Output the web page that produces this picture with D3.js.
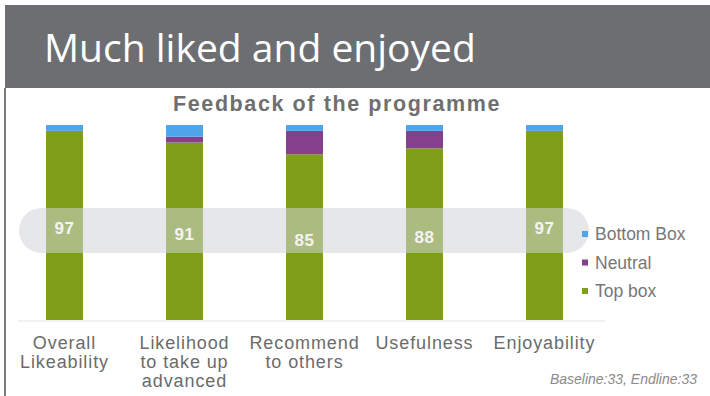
<!DOCTYPE html>
<html>
<head>
<meta charset="utf-8">
<script src="https://cdn.jsdelivr.net/npm/d3@7"></script>
<style>
    body { margin: 0; background: #fff; }
    svg { display: block; }
</style>
</head>
<body>
<div id="chart"></div>
<script>
// values
const categories = ['Overall Likeability', 'Likelihood to take up advanced', 'Recommend to others', 'Usefulness', 'Enjoyability'];
const categoryLines = [['Overall', 'Likeability'], ['Likelihood', 'to take up', 'advanced'], ['Recommend', 'to others'], ['Usefulness'], ['Enjoyability']];
const topBox = [97, 91, 85, 88, 97];
const neutral = [0, 3, 12, 9, 0];
const bottomBox = [3, 6, 3, 3, 3];
const seriesKeys = ['Top box', 'Neutral', 'Bottom Box'];
const legendOrder = ['Bottom Box', 'Neutral', 'Top box'];
const headline = 'Much liked and enjoyed';
const chartTitle = 'Feedback of the programme';
const footNote = 'Baseline:33, Endline:33';

const width = 710;
const height = 396;

const colors = d3.scaleOrdinal()
    .domain(seriesKeys)
    .range(['#7f9f19', '#85408d', '#4fa5ea']);

const rows = categories.map((c, i) => ({
    cat: c,
    'Top box': topBox[i],
    'Neutral': neutral[i],
    'Bottom Box': bottomBox[i]
}));

const svg = d3.select('#chart').append('svg')
    .attr('width', width)
    .attr('height', height);

// header strip
svg.append('rect')
    .attr('x', 5).attr('y', 5)
    .attr('width', width - 5).attr('height', 83)
    .attr('fill', '#6d6e71');

svg.append('text')
    .attr('x', 44).attr('y', 62)
    .attr('fill', '#fff')
    .style('font-family', '"Open Sans", sans-serif')
    .style('font-size', '39px')
    .text(headline);

// left border of the slide picture
svg.append('rect')
    .attr('x', 4).attr('y', 88)
    .attr('width', 2).attr('height', height - 88)
    .attr('fill', '#7a7a7a');

svg.append('text')
    .attr('x', 337).attr('y', 111)
    .attr('text-anchor', 'middle')
    .attr('fill', '#6f6f6f')
    .style('font-family', '"Liberation Sans", Arial, sans-serif')
    .style('font-weight', 'bold')
    .style('font-size', '21.5px')
    .style('letter-spacing', '1.6px')
    .text(chartTitle);

const scaleX = d3.scaleBand()
    .domain(categories)
    .range([4.5, 604.5])
    .paddingInner(0.692)
    .paddingOuter(0.346);

const scaleY = d3.scaleLinear()
    .domain([0, 100])
    .range([320, 125]);

const plot = svg.append('g').attr('class', 'plot');

// baseline
plot.append('line')
    .attr('x1', 18).attr('x2', 605)
    .attr('y1', scaleY(0) + 1).attr('y2', scaleY(0) + 1)
    .attr('stroke', '#ececec')
    .attr('stroke-width', 1.5);

const stacked = d3.stack().keys(seriesKeys)(rows);

plot.selectAll('g.series')
    .data(stacked)
    .join('g')
    .attr('class', 'series')
    .attr('fill', d => colors(d.key))
    .selectAll('rect')
    .data(d => d)
    .join('rect')
    .attr('x', d => scaleX(d.data.cat))
    .attr('y', d => scaleY(d[1]))
    .attr('width', scaleX.bandwidth())
    .attr('height', d => scaleY(d[0]) - scaleY(d[1]));

// highlight band across the top box values
plot.append('rect')
    .attr('x', 19).attr('y', 208)
    .attr('width', 570).attr('height', 45)
    .attr('rx', 22.5).attr('ry', 22.5)
    .attr('fill', '#d1d3d6')
    .attr('opacity', 0.55);

// data labels for top box
plot.selectAll('text.value')
    .data(stacked[0])
    .join('text')
    .attr('class', 'value')
    .attr('x', d => scaleX(d.data.cat) + scaleX.bandwidth() / 2)
    .attr('y', d => (scaleY(d[0]) + scaleY(d[1])) / 2 + 3)
    .attr('dy', '0.35em')
    .attr('text-anchor', 'middle')
    .attr('fill', '#f4f4f4')
    .style('font-family', '"Liberation Sans", Arial, sans-serif')
    .style('font-weight', 'bold')
    .style('font-size', '17px')
    .style('letter-spacing', '0.5px')
    .text(d => d.data['Top box']);

// category labels
const axisLabels = plot.selectAll('text.cat')
    .data(categories)
    .join('text')
    .attr('class', 'cat')
    .attr('text-anchor', 'middle')
    .attr('fill', '#6b6b6b')
    .style('font-family', '"Liberation Sans", Arial, sans-serif')
    .style('font-size', '18px')
    .style('letter-spacing', '0.9px');

axisLabels.selectAll('tspan')
    .data((d, i) => categoryLines[i].map(l => ({ l, c: d })))
    .join('tspan')
    .attr('x', d => scaleX(d.c) + scaleX.bandwidth() / 2)
    .attr('y', (d, j) => 349 + j * 19)
    .text(d => d.l);

// legend
const legend = svg.append('g')
    .selectAll('g')
    .data(legendOrder)
    .join('g')
    .attr('transform', (d, i) => `translate(582,${234 + i * 28.5})`);

legend.append('rect')
    .attr('x', 0).attr('y', -3)
    .attr('width', 6).attr('height', 6)
    .attr('fill', d => colors(d));

legend.append('text')
    .attr('x', 13).attr('y', 0)
    .attr('dy', '0.35em')
    .attr('fill', '#777')
    .style('font-family', '"Liberation Sans", Arial, sans-serif')
    .style('font-size', '17.5px')
    .text(d => d);

svg.append('text')
    .attr('x', 697).attr('y', 384)
    .attr('text-anchor', 'end')
    .attr('fill', '#8a8a8a')
    .style('font-family', '"Liberation Sans", Arial, sans-serif')
    .style('font-style', 'italic')
    .style('font-size', '14px')
    .text(footNote);
</script>
</body>
</html>
